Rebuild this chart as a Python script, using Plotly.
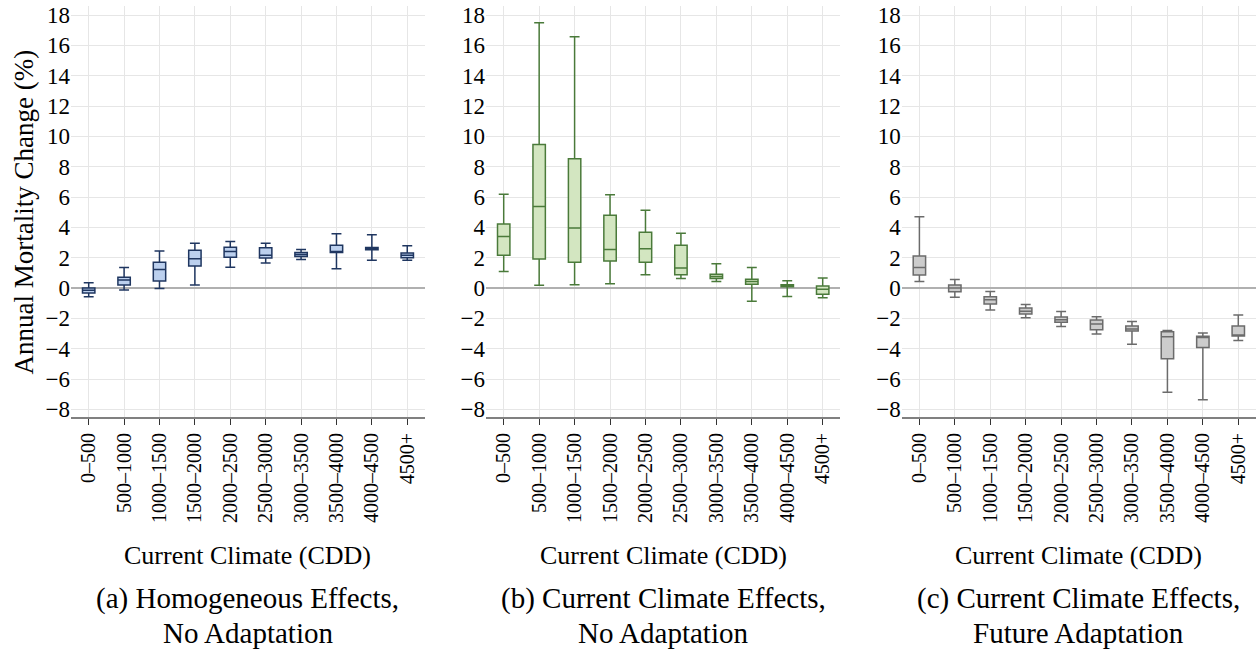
import plotly.graph_objects as go
from plotly.subplots import make_subplots

# categorías de clima actual (CDD)
categorias = ["0–500", "500–1000", "1000–1500", "1500–2000", "2000–2500",
              "2500–3000", "3000–3500", "3500–4000", "4000–4500", "4500+"]

# (a) Homogeneous Effects, No Adaptation
a_bajo = [-0.57, -0.13, -0.02, 0.20, 1.38, 1.65, 1.89, 1.27, 1.84, 1.84]
a_q1 = [-0.33, 0.20, 0.46, 1.45, 2.04, 1.98, 2.09, 2.35, 2.52, 2.00]
a_mediana = [-0.15, 0.53, 1.23, 1.93, 2.42, 2.17, 2.22, 2.42, 2.61, 2.17]
a_q3 = [0.00, 0.72, 1.71, 2.50, 2.70, 2.66, 2.35, 2.83, 2.68, 2.31]
a_alto = [0.35, 1.36, 2.44, 2.96, 3.07, 2.96, 2.55, 3.58, 3.51, 2.79]

# (b) Current Climate Effects, No Adaptation
b_bajo = [1.10, 0.18, 0.22, 0.29, 0.88, 0.64, 0.44, -0.86, -0.55, -0.64]
b_q1 = [2.17, 1.91, 1.71, 1.78, 1.71, 0.88, 0.64, 0.26, 0.09, -0.40]
b_mediana = [3.40, 5.38, 3.97, 2.55, 2.59, 1.32, 0.77, 0.44, 0.15, -0.07]
b_q3 = [4.22, 9.46, 8.52, 4.81, 3.69, 2.83, 0.92, 0.59, 0.22, 0.13]
b_alto = [6.19, 17.50, 16.58, 6.15, 5.14, 3.62, 1.60, 1.36, 0.48, 0.66]

# (c) Current Climate Effects, Future Adaptation
c_bajo = [0.44, -0.61, -1.45, -1.95, -2.53, -3.03, -3.71, -6.87, -7.36, -3.45]
c_q1 = [0.86, -0.24, -1.05, -1.71, -2.26, -2.74, -2.83, -4.66, -3.91, -3.16]
c_mediana = [1.36, 0.00, -0.77, -1.52, -2.09, -2.37, -2.70, -3.21, -3.25, -3.12]
c_q3 = [2.11, 0.20, -0.57, -1.32, -1.91, -2.11, -2.50, -2.88, -3.18, -2.50]
c_alto = [4.70, 0.57, -0.22, -1.08, -1.54, -1.89, -2.20, -2.79, -2.96, -1.78]

y_ticks = list(range(-8, 19, 2))

paneles = [
    (a_bajo, a_q1, a_mediana, a_q3, a_alto, "#bcd0ee", "#1f3660"),
    (b_bajo, b_q1, b_mediana, b_q3, b_alto, "#d3e6c1", "#4a7a3a"),
    (c_bajo, c_q1, c_mediana, c_q3, c_alto, "#cccccc", "#6b6b6b"),
]

subtitulos = [
    ("(a) Homogeneous Effects,", "No Adaptation"),
    ("(b) Current Climate Effects,", "No Adaptation"),
    ("(c) Current Climate Effects,", "Future Adaptation"),
]

FUENTE = "Liberation Serif"

fig = make_subplots(rows=1, cols=3, horizontal_spacing=0.05)

for i, (bajo, q1, med, q3, alto, relleno, linea) in enumerate(paneles):
    fig.add_trace(
        go.Box(
            x=categorias,
            lowerfence=bajo,
            q1=q1,
            median=med,
            q3=q3,
            upperfence=alto,
            fillcolor=relleno,
            line=dict(color=linea, width=1.5),
            whiskerwidth=0.8,
            showlegend=False,
        ),
        row=1, col=i + 1,
    )

dominios = [[0.0, 0.2987], [0.3502, 0.6493], [0.701, 1.0]]
for i in range(3):
    fig.update_xaxes(
        domain=dominios[i],
        type="category",
        categoryorder="array",
        categoryarray=categorias,
        tickangle=-90,
        ticks="outside",
        ticklen=6,
        tickcolor="#333333",
        showline=True,
        linecolor="#808080",
        linewidth=2,
        showgrid=True,
        gridcolor="#e6e6e6",
        automargin=False,
        tickfont=dict(family=FUENTE, size=20, color="black"),
        row=1, col=i + 1,
    )
    fig.update_yaxes(
        range=[-8.5, 18.6],
        tickvals=y_ticks,
        showgrid=True,
        gridcolor="#e6e6e6",
        zeroline=True,
        zerolinecolor="#b0b0b0",
        zerolinewidth=1.5,
        showline=False,
        ticks="",
        automargin=False,
        tickfont=dict(family=FUENTE, size=23, color="black"),
        row=1, col=i + 1,
    )

anotaciones = []
for i, (d, (linea1, linea2)) in enumerate(zip(dominios, subtitulos)):
    centro = (d[0] + d[1]) / 2
    anotaciones.append(dict(text="Current Climate (CDD)", x=centro, y=-0.336,
                            xref="paper", yref="paper", showarrow=False,
                            xanchor="center", yanchor="middle",
                            font=dict(family=FUENTE, size=26, color="black")))
    anotaciones.append(dict(text=linea1, x=centro, y=-0.4428,
                            xref="paper", yref="paper", showarrow=False,
                            xanchor="center", yanchor="middle",
                            font=dict(family=FUENTE, size=29, color="black")))
    anotaciones.append(dict(text=linea2, x=centro, y=-0.5255,
                            xref="paper", yref="paper", showarrow=False,
                            xanchor="center", yanchor="middle",
                            font=dict(family=FUENTE, size=29, color="black")))

anotaciones.append(dict(text="Annual Mortality Change (%)", x=-0.0397, y=0.5,
                        xref="paper", yref="paper", showarrow=False,
                        textangle=-90, xanchor="center", yanchor="middle",
                        font=dict(family=FUENTE, size=27, color="black")))

fig.update_layout(
    width=1257,
    height=651,
    margin=dict(l=71, r=1, t=6, b=234),
    paper_bgcolor="white",
    plot_bgcolor="white",
    boxgap=0.5,
    font=dict(family=FUENTE),
    annotations=anotaciones,
)

# sin margen del body para que la figura ocupe la ventana completa
fig.write_html("out.html", config={"displayModeBar": False},
               post_script="document.body.style.margin='0';")
